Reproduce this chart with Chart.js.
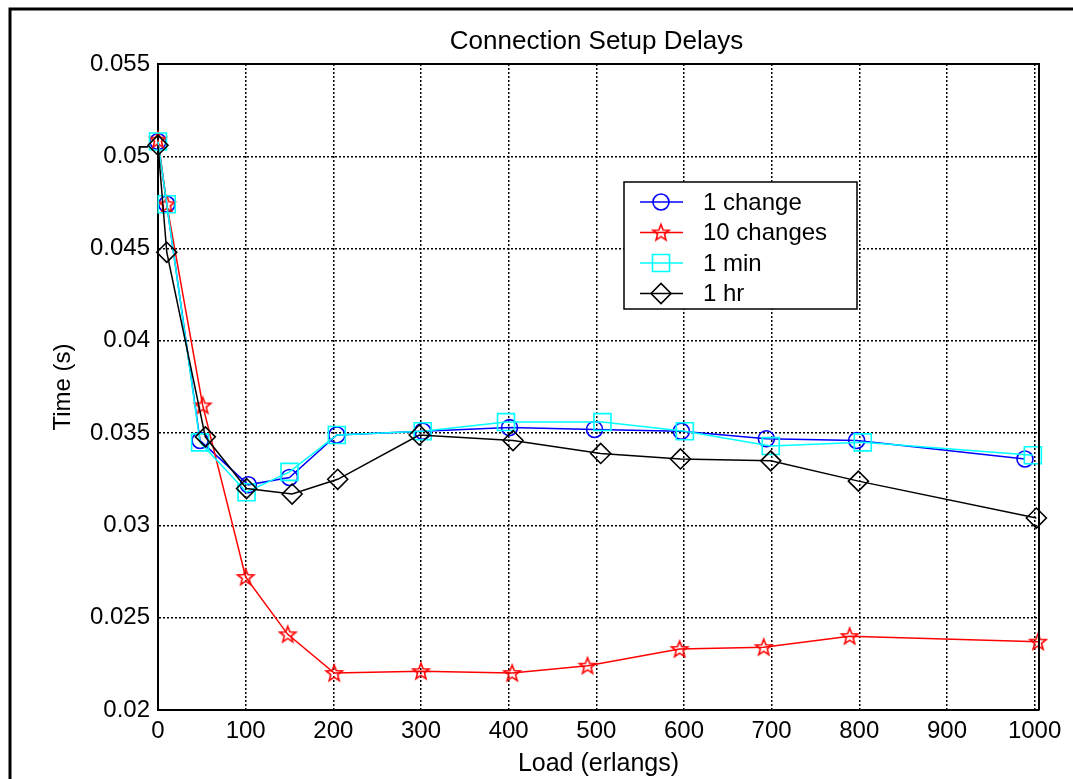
<!DOCTYPE html>
<html>
<head>
<meta charset="utf-8">
<script src="https://cdn.jsdelivr.net/npm/chart.js@4.4.0/dist/chart.umd.min.js"></script>
<style>
  html, body { margin: 0; padding: 0; background: #fff; }
</style>
</head>
<body>
<canvas id="chart" width="1073" height="779"></canvas>
<script>
const FONT = '"Liberation Sans", Arial, Helvetica, sans-serif';

const chartTitle = 'Connection Setup Delays';
const xTitle = 'Load (erlangs)';
const yTitle = 'Time (s)';
const seriesNames = ['1 change', '10 changes', '1 min', '1 hr'];

const xTicks = [0, 100, 200, 300, 400, 500, 600, 700, 800, 900, 1000];
const yTicks = [0.02, 0.025, 0.03, 0.035, 0.04, 0.045, 0.05, 0.055];

// 1 change
const load1Change = [0, 10, 48, 103, 150, 204, 302, 401, 498, 597, 694, 797, 989];
const time1Change = [0.0508, 0.0474, 0.0346, 0.0322, 0.0326, 0.0349, 0.0351, 0.0353, 0.0352, 0.0351, 0.0347, 0.0346, 0.0336];

// 10 changes
const load10Changes = [0, 10, 51, 100, 148, 201, 300, 404, 490, 595, 691, 789, 1004];
const time10Changes = [0.0509, 0.0474, 0.0365, 0.0272, 0.0241, 0.0220, 0.0221, 0.0220, 0.0224, 0.0233, 0.0234, 0.0240, 0.0237];

// 1 min
const load1Min = [0, 10, 48, 101, 150, 204, 302, 397, 507, 601, 699, 804, 998];
const time1Min = [0.0508, 0.0474, 0.0345, 0.0318, 0.0329, 0.0349, 0.0351, 0.0356, 0.0356, 0.0351, 0.0343, 0.0345, 0.0338];

// 1 hr
const load1Hr = [0, 10, 54, 101, 153, 205, 298, 405, 505, 596, 699, 799, 1002];
const time1Hr = [0.0506, 0.0448, 0.0348, 0.0320, 0.0317, 0.0325, 0.0349, 0.0346, 0.0339, 0.0336, 0.0335, 0.0324, 0.0304];

function toPoints(xs, ys) {
  return xs.map((x, i) => ({ x: x, y: ys[i] }));
}

// hollow five-point star, like the matlab 'p' marker
function makeStar(color) {
  const c = document.createElement('canvas');
  c.width = 22; c.height = 22;
  const g = c.getContext('2d');
  g.strokeStyle = color;
  g.lineWidth = 1.6;
  g.beginPath();
  for (let i = 0; i < 10; i++) {
    const r = i % 2 === 0 ? 8.5 : 3.6;
    const a = -Math.PI / 2 + i * Math.PI / 5;
    const px = 11 + r * Math.cos(a), py = 11.5 + r * Math.sin(a);
    if (i === 0) g.moveTo(px, py); else g.lineTo(px, py);
  }
  g.closePath();
  g.stroke();
  return c;
}
const redStar = makeStar('#ff0000');

function series(label, xs, ys, color, style, radius, order) {
  return {
    label: label,
    data: toPoints(xs, ys),
    borderColor: color,
    borderWidth: 1.5,
    pointStyle: style,
    pointRadius: radius,
    pointHoverRadius: radius,
    pointBorderColor: color,
    pointBackgroundColor: 'rgba(0,0,0,0)',
    pointBorderWidth: 1.6,
    tension: 0,
    fill: false,
    clip: false,
    order: order
  };
}

const framePlugin = {
  id: 'frame',
  beforeDraw(chart) {
    const ctx = chart.ctx;
    ctx.save();
    ctx.fillStyle = '#fff';
    ctx.fillRect(0, 0, chart.width, chart.height);
    // outer figure frame (left and top edges)
    ctx.strokeStyle = '#000';
    ctx.lineWidth = 3;
    ctx.beginPath();
    ctx.moveTo(10, chart.height);
    ctx.lineTo(10, 9);
    ctx.lineTo(chart.width, 9);
    ctx.stroke();
    ctx.restore();
  },
  afterDraw(chart) {
    const ctx = chart.ctx;
    const a = chart.chartArea;
    ctx.save();
    // axes box top and right
    ctx.strokeStyle = '#000';
    ctx.lineWidth = 2;
    ctx.beginPath();
    ctx.moveTo(a.left, a.top);
    ctx.lineTo(a.right, a.top);
    ctx.lineTo(a.right, a.bottom);
    ctx.stroke();

    // title
    ctx.fillStyle = '#000';
    ctx.font = '26px ' + FONT;
    ctx.textAlign = 'center';
    ctx.textBaseline = 'alphabetic';
    ctx.fillText(chartTitle, (a.left + a.right) / 2 - 2, 49);

    // legend
    const lx = 624, ly = 182, lw = 233, lh = 127;
    ctx.fillStyle = '#fff';
    ctx.fillRect(lx, ly, lw, lh);
    ctx.strokeStyle = '#000';
    ctx.lineWidth = 1.5;
    ctx.strokeRect(lx, ly, lw, lh);
    ctx.font = '24px ' + FONT;
    ctx.textAlign = 'left';
    ctx.textBaseline = 'middle';
    chart.data.datasets.forEach((ds, i) => {
      const y = ly + 20 + i * 30.5;
      ctx.strokeStyle = ds.borderColor;
      ctx.lineWidth = 1.5;
      ctx.beginPath();
      ctx.moveTo(lx + 16, y);
      ctx.lineTo(lx + 59, y);
      ctx.stroke();
      ctx.fillStyle = 'rgba(0,0,0,0)';
      ctx.lineWidth = ds.pointBorderWidth;
      Chart.helpers.drawPoint(ctx, {
        pointStyle: ds.pointStyle,
        radius: ds.pointRadius,
        borderWidth: ds.pointBorderWidth,
        rotation: 0
      }, lx + 37, y);
      ctx.fillStyle = '#000';
      ctx.fillText(ds.label, lx + 79, y + 1);
    });
    ctx.restore();
  }
};

const ctx = document.getElementById('chart').getContext('2d');
new Chart(ctx, {
  type: 'line',
  data: {
    datasets: [
      series(seriesNames[0], load1Change, time1Change, '#0000ff', 'circle', 8, 4),
      series(seriesNames[1], load10Changes, time10Changes, '#ff0000', redStar, 9, 3),
      series(seriesNames[2], load1Min, time1Min, '#00ffff', 'rect', 12, 2),
      series(seriesNames[3], load1Hr, time1Hr, '#000000', 'rectRot', 10, 1)
    ]
  },
  options: {
    responsive: false,
    animation: false,
    events: [],
    layout: { padding: { top: 64, right: 34, left: 0, bottom: 0 } },
    plugins: {
      legend: { display: false },
      title: { display: false },
      tooltip: { enabled: false }
    },
    scales: {
      x: {
        type: 'linear',
        min: 0,
        max: 1005,
        afterBuildTicks: s => { s.ticks = xTicks.map(v => ({ value: v })); },
        afterFit: s => { s.height = 69; },
        ticks: {
          color: '#000',
          font: { family: FONT, size: 24 },
          padding: 7,
          maxRotation: 0,
          autoSkip: false,
          callback: v => String(v)
        },
        grid: { color: '#000', lineWidth: 1.5, drawTicks: false },
        border: { display: true, color: '#000', width: 2, dash: [2, 2] },
        title: {
          display: true,
          text: xTitle,
          color: '#000',
          font: { family: FONT, size: 25 },
          padding: { top: 0, bottom: 0 }
        }
      },
      y: {
        type: 'linear',
        min: 0.02,
        max: 0.055,
        afterBuildTicks: s => { s.ticks = yTicks.map(v => ({ value: v })); },
        afterFit: s => { s.width = 158; },
        ticks: {
          color: '#000',
          font: { family: FONT, size: 24 },
          padding: 8,
          callback: v => String(+v.toFixed(3))
        },
        grid: { color: '#000', lineWidth: 1.5, drawTicks: false },
        border: { display: true, color: '#000', width: 2, dash: [2, 2] },
        title: {
          display: true,
          text: yTitle,
          color: '#000',
          font: { family: FONT, size: 24 },
          padding: { top: 49, bottom: 0 }
        }
      }
    }
  },
  plugins: [framePlugin]
});
</script>
</body>
</html>
